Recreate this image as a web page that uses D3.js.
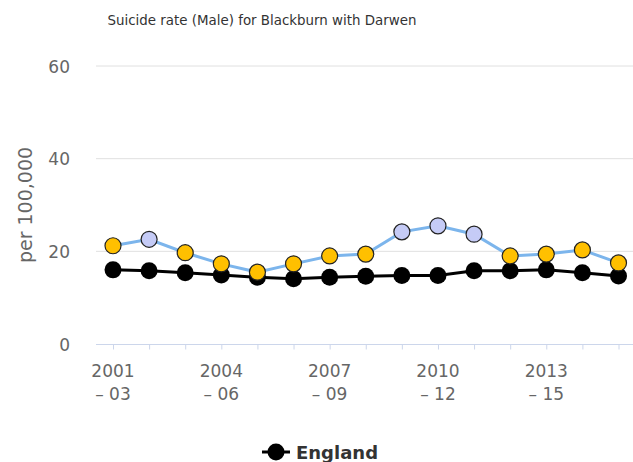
<!DOCTYPE html>
<html>
<head>
<meta charset="utf-8">
<script src="https://cdn.jsdelivr.net/npm/d3@7"></script>
<style>
  body { margin: 0; background: #fff; }
  svg { font-family: "DejaVu Sans", sans-serif; }
</style>
</head>
<body>
<svg id="chart"></svg>
<script>
const width = 633;
const height = 462;

// Data
const periods = ["2001 - 03", "2002 - 04", "2003 - 05", "2004 - 06", "2005 - 07", "2006 - 08",
    "2007 - 09", "2008 - 10", "2009 - 11", "2010 - 12", "2011 - 13", "2012 - 14",
    "2013 - 15", "2014 - 16", "2015 - 17"];
const localValues = [21.2, 22.6, 19.7, 17.3, 15.5, 17.3, 19.0, 19.4, 24.2, 25.5, 23.7, 19.0, 19.4, 20.3, 17.5];
// comparison with England: "similar" or "higher"
const localSignificance = ["similar", "higher", "similar", "similar", "similar", "similar", "similar",
    "similar", "higher", "higher", "higher", "similar", "similar", "similar", "similar"];
const englandValues = [16.0, 15.8, 15.4, 14.9, 14.4, 14.1, 14.4, 14.6, 14.8, 14.8, 15.8, 15.8, 16.0, 15.4, 14.7];
const yTicks = [0, 20, 40, 60];

const sigColour = { similar: "#FFC000", higher: "#C5CBF6" };

var svg = d3.select("#chart")
    .attr("width", width)
    .attr("height", height)
    .attr("viewBox", `0 0 ${width} ${height}`);

// Scales
var x = d3.scaleLinear()
    .domain([0, periods.length - 1])
    .range([113, 618.5]);

var y = d3.scaleLinear()
    .domain([0, 60])
    .range([344, 66]);

const plotLeft = 96;
const plotRight = 640;

// Title
svg.append("text")
    .attr("x", 262)
    .attr("y", 25)
    .attr("text-anchor", "middle")
    .attr("fill", "#333")
    .style("font-size", "13.4px")
    .text("Suicide rate (Male) for Blackburn with Darwen");

// Gridlines
svg.append("g")
    .selectAll("line")
    .data(yTicks.filter(d => d > 0))
    .enter().append("line")
    .attr("x1", plotLeft)
    .attr("x2", plotRight)
    .attr("y1", d => y(d))
    .attr("y2", d => y(d))
    .attr("stroke", "#e0e0e0")
    .attr("stroke-width", 1);

// Y axis labels
var yAxis = d3.axisLeft(y).tickValues(yTicks).tickSize(0).tickPadding(0);
svg.append("g")
    .attr("transform", "translate(70,0)")
    .call(yAxis)
    .call(g => g.select(".domain").remove())
    .selectAll("text")
    .attr("fill", "#666")
    .attr("dy", "0.36em")
    .style("font-family", "DejaVu Sans, sans-serif")
    .style("font-size", "17px");

// Y axis title
svg.append("text")
    .attr("transform", "translate(32,205) rotate(-90)")
    .attr("text-anchor", "middle")
    .attr("fill", "#666")
    .style("font-size", "19px")
    .text("per 100,000");

// X axis line and ticks
svg.append("line")
    .attr("x1", plotLeft)
    .attr("x2", plotRight)
    .attr("y1", y(0) + 0.5)
    .attr("y2", y(0) + 0.5)
    .attr("stroke", "#ccd6eb")
    .attr("stroke-width", 1);

var xAxis = d3.axisBottom(x)
    .tickValues(d3.range(periods.length))
    .tickSize(5)
    .tickFormat("");
svg.append("g")
    .attr("transform", `translate(0,${y(0) + 0.5})`)
    .call(xAxis)
    .call(g => g.select(".domain").remove())
    .selectAll("line")
    .attr("stroke", "#ccd6eb");

// X labels, every third period on two lines
var labels = svg.append("g")
    .selectAll("text")
    .data(d3.range(0, periods.length, 3))
    .enter().append("text")
    .attr("text-anchor", "middle")
    .attr("fill", "#666")
    .style("font-size", "17px");
labels.append("tspan")
    .attr("x", d => x(d))
    .attr("y", 377)
    .text(d => periods[d].split(" - ")[0]);
labels.append("tspan")
    .attr("x", d => x(d))
    .attr("y", 400)
    .text(d => "– " + periods[d].split(" - ")[1]);

var line = d3.line()
    .x((d, i) => x(i))
    .y(d => y(d));

// Local area series
svg.append("path")
    .datum(localValues)
    .attr("fill", "none")
    .attr("stroke", "#7cb5ec")
    .attr("stroke-width", 3)
    .attr("d", line);

// England series
svg.append("path")
    .datum(englandValues)
    .attr("fill", "none")
    .attr("stroke", "#000")
    .attr("stroke-width", 3)
    .attr("d", line);

svg.append("g")
    .selectAll("circle")
    .data(englandValues)
    .enter().append("circle")
    .attr("cx", (d, i) => x(i))
    .attr("cy", d => y(d))
    .attr("r", 8.5)
    .attr("fill", "#000");

svg.append("g")
    .selectAll("circle")
    .data(localValues)
    .enter().append("circle")
    .attr("cx", (d, i) => x(i))
    .attr("cy", d => y(d))
    .attr("r", 8)
    .attr("fill", (d, i) => sigColour[localSignificance[i]])
    .attr("stroke", "#222")
    .attr("stroke-width", 1.2);

// Legend
var legend = svg.append("g").attr("transform", "translate(0,452)");
legend.append("line")
    .attr("x1", 262)
    .attr("x2", 290)
    .attr("y1", 0)
    .attr("y2", 0)
    .attr("stroke", "#000")
    .attr("stroke-width", 3);
legend.append("circle")
    .attr("cx", 276)
    .attr("cy", 0)
    .attr("r", 8.5)
    .attr("fill", "#000");
legend.append("text")
    .attr("x", 296)
    .attr("y", 7)
    .attr("fill", "#333")
    .style("font-size", "18px")
    .style("font-weight", "bold")
    .text("England");
</script>
</body>
</html>
